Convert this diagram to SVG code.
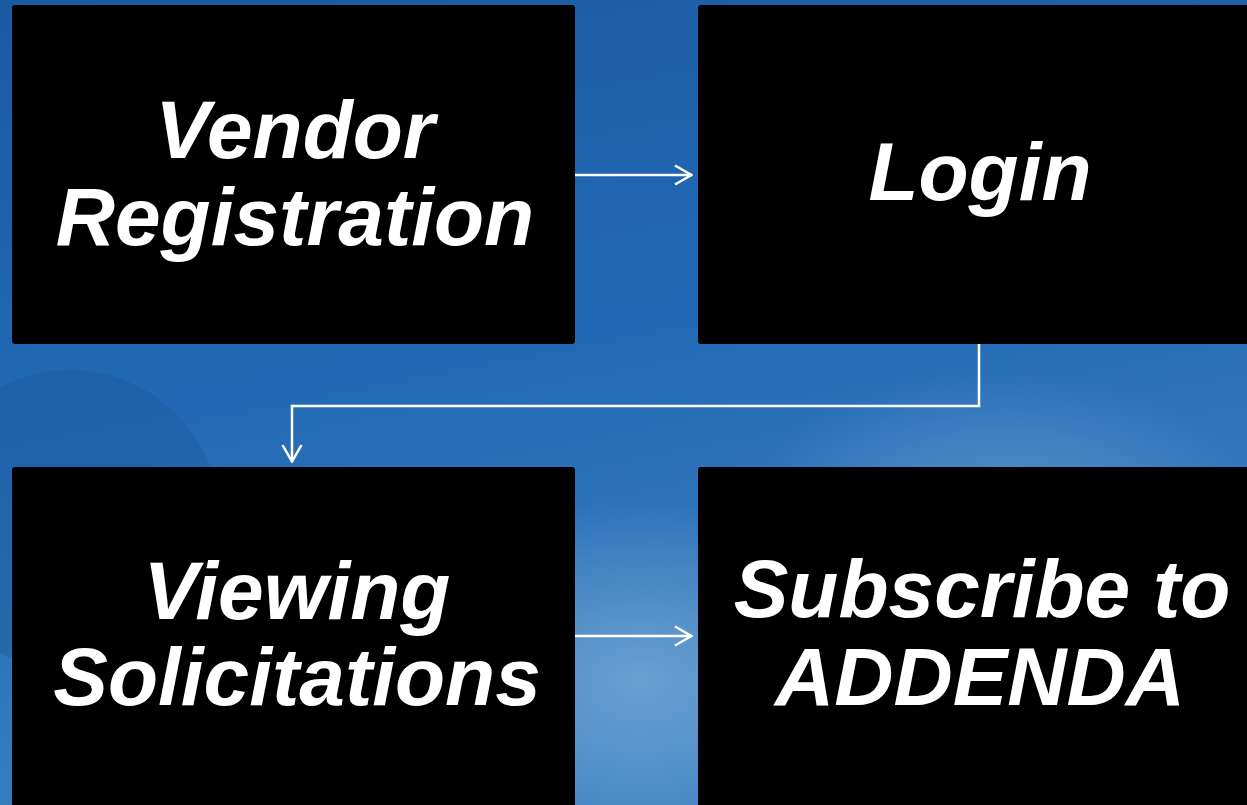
<svg xmlns="http://www.w3.org/2000/svg" width="1247" height="805" viewBox="0 0 1247 805">
<defs>
<linearGradient id="bg" x1="0" y1="0" x2="0.3" y2="1">
<stop offset="0" stop-color="#1b5aa2"/>
<stop offset="0.5" stop-color="#2169b4"/>
<stop offset="1" stop-color="#3a80c2"/>
</linearGradient>
<radialGradient id="cloud" cx="0.5" cy="0.5" r="0.5">
<stop offset="0" stop-color="#8fb8dc" stop-opacity="0.6"/>
<stop offset="1" stop-color="#8fb8dc" stop-opacity="0"/>
</radialGradient>
<marker id="ah" viewBox="0 0 20 22" refX="19" refY="11" markerWidth="20" markerHeight="22" markerUnits="userSpaceOnUse" orient="auto">
<path d="M2,1.5 L18.5,11 L2,20.5" fill="none" stroke="#ffffff" stroke-width="2.5"/>
</marker>
</defs>
<style>
.box{fill:#000000;}
.lbl{font-family:"Liberation Sans",Arial,sans-serif;font-weight:bold;font-style:italic;font-size:82px;fill:#ffffff;text-anchor:middle;}
.conn{fill:none;stroke:#ffffff;stroke-width:2.5;}
</style>
<rect width="1247" height="805" fill="url(#bg)"/>
<ellipse cx="640" cy="680" rx="260" ry="180" fill="url(#cloud)"/>
<ellipse cx="1000" cy="520" rx="260" ry="150" fill="url(#cloud)" opacity="0.7"/>
<circle cx="70" cy="520" r="150" fill="#1a5596" opacity="0.35"/>
<g id="n1"><rect class="box" x="12" y="5" width="563" height="339" rx="3"/>
<text class="lbl" x="295" y="158">Vendor</text>
<text class="lbl" x="295" y="245">Registration</text></g>
<g id="n2"><rect class="box" x="698" y="5" width="560" height="339" rx="3"/>
<text class="lbl" x="980" y="200">Login</text></g>
<g id="n3"><rect class="box" x="12" y="467" width="563" height="350" rx="3"/>
<text class="lbl" x="297" y="619">Viewing</text>
<text class="lbl" x="297" y="705">Solicitations</text></g>
<g id="n4"><rect class="box" x="698" y="467" width="560" height="350" rx="3"/>
<text class="lbl" x="982" y="617">Subscribe to</text>
<text class="lbl" x="980" y="705">ADDENDA</text></g>
<g id="connectors">
<path class="conn" d="M575,175 L692,175" marker-end="url(#ah)"/>
<path class="conn" d="M979,344 L979,406 L292,406 L292,462" marker-end="url(#ah)"/>
<path class="conn" d="M575,636 L692,636" marker-end="url(#ah)"/>
</g>
</svg>
